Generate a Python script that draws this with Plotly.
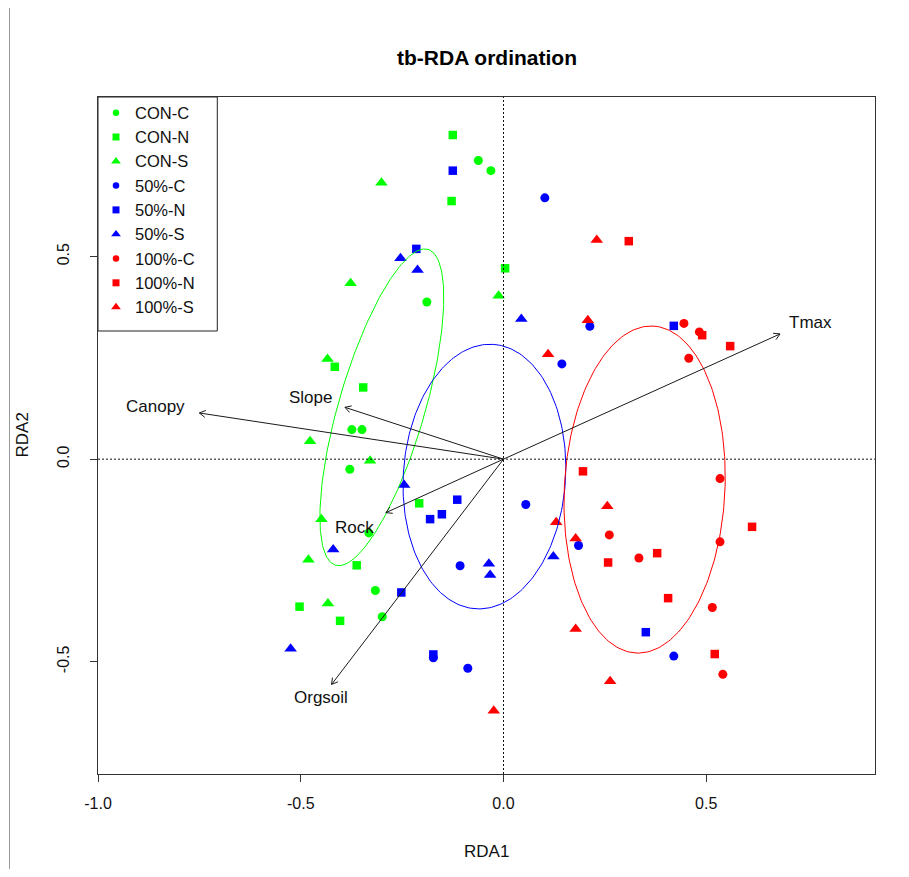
import numpy as np
import plotly.graph_objects as go

# ---------------- data ----------------
groups = ["CON-C", "CON-N", "CON-S", "50%-C", "50%-N", "50%-S", "100%-C", "100%-N", "100%-S"]
group_colors = ["#00FF00", "#00FF00", "#00FF00", "#0000FF", "#0000FF", "#0000FF", "#FF0000", "#FF0000", "#FF0000"]
group_symbols = ["circle", "square", "triangle-up"] * 3

con_c_x = [-0.062, -0.031, -0.189, -0.374, -0.349, -0.379, -0.332, -0.316, -0.299]
con_c_y = [0.737, 0.712, 0.388, 0.073, 0.073, -0.025, -0.182, -0.324, -0.389]
con_n_x = [-0.125, -0.128, 0.004, -0.416, -0.346, -0.208, -0.362, -0.503, -0.403]
con_n_y = [0.800, 0.637, 0.471, 0.228, 0.177, -0.109, -0.262, -0.364, -0.399]
con_s_x = [-0.301, -0.377, -0.012, -0.434, -0.477, -0.329, -0.449, -0.481, -0.433]
con_s_y = [0.682, 0.434, 0.403, 0.247, 0.044, -0.004, -0.148, -0.248, -0.356]
p50_c_x = [0.102, 0.213, 0.144, 0.055, 0.185, -0.107, -0.173, -0.088, 0.420]
p50_c_y = [0.645, 0.328, 0.235, -0.112, -0.213, -0.263, -0.490, -0.516, -0.486]
p50_n_x = [-0.125, -0.215, 0.420, -0.114, -0.152, -0.181, -0.252, -0.173, 0.351]
p50_n_y = [0.712, 0.519, 0.329, -0.100, -0.136, -0.148, -0.329, -0.482, -0.427]
p50_s_x = [-0.254, -0.212, 0.044, -0.245, -0.420, -0.036, -0.033, -0.525, 0.123]
p50_s_y = [0.496, 0.467, 0.346, -0.064, -0.223, -0.258, -0.286, -0.468, -0.240]
p100_c_x = [0.445, 0.483, 0.457, 0.534, 0.261, 0.534, 0.334, 0.515, 0.541]
p100_c_y = [0.335, 0.314, 0.249, -0.048, -0.187, -0.204, -0.244, -0.366, -0.531]
p100_n_x = [0.309, 0.490, 0.559, 0.196, 0.613, 0.379, 0.258, 0.406, 0.521]
p100_n_y = [0.538, 0.306, 0.279, -0.030, -0.167, -0.232, -0.255, -0.343, -0.481]
p100_s_x = [0.230, 0.208, 0.110, 0.256, 0.130, 0.178, 0.178, 0.263, -0.024]
p100_s_y = [0.541, 0.343, 0.259, -0.116, -0.156, -0.196, -0.419, -0.548, -0.621]

group_x = [con_c_x, con_n_x, con_s_x, p50_c_x, p50_n_x, p50_s_x, p100_c_x, p100_n_x, p100_s_x]
group_y = [con_c_y, con_n_y, con_s_y, p50_c_y, p50_n_y, p50_s_y, p100_c_y, p100_n_y, p100_s_y]

# environmental vectors (biplot arrows)
env_names = ["Tmax", "Canopy", "Slope", "Rock", "Orgsoil"]
env_x = [0.682, -0.750, -0.391, -0.290, -0.424]
env_y = [0.309, 0.114, 0.128, -0.132, -0.556]
env_label_x = [0.756, -0.858, -0.477, -0.368, -0.450]
env_label_y = [0.337, 0.131, 0.152, -0.169, -0.589]

# treatment ellipses (centre, semi-axes, rotation in degrees)
ellipse_colors = ["#00FF00", "#0000FF", "#FF0000"]
ellipse_cx = [-0.300, -0.047, 0.348]
ellipse_cy = [0.128, -0.043, -0.075]
ellipse_a = [0.406, 0.327, 0.404]
ellipse_b = [0.106, 0.200, 0.198]
ellipse_angle = [73.7, 86.2, 87.0]

x_ticks = [-1.0, -0.5, 0.0, 0.5]
x_tick_labels = ["-1.0", "-0.5", "0.0", "0.5"]
y_ticks = [-0.5, 0.0, 0.5]
y_tick_labels = ["-0.5", "0.0", "0.5"]

# ---------------- figure ----------------
FONT = "Liberation Sans, Arial, Helvetica, sans-serif"
OFF = 8                      # default page margin of the html body
W, H = 909 - 2 * OFF, 877 - 2 * OFF
ML, MT = 98 - OFF, 97 - OFF
PW, PH = 777, 677
MR, MB = W - ML - PW, H - MT - PH

fig = go.Figure()

marker_sizes = {"circle": 9, "square": 8.5, "triangle-up": 11}
for g, xs, ys, col, sym in zip(groups, group_x, group_y, group_colors, group_symbols):
    fig.add_trace(go.Scatter(
        x=xs, y=ys, mode="markers", name=g,
        marker=dict(color=col, symbol=sym, size=marker_sizes[sym], line=dict(width=0)),
        hoverinfo="x+y+name"))

t = np.linspace(0, 2 * np.pi, 240)
for cx, cy, a, b, ang, col in zip(ellipse_cx, ellipse_cy, ellipse_a, ellipse_b, ellipse_angle, ellipse_colors):
    th = np.deg2rad(ang)
    ex = cx + a * np.cos(t) * np.cos(th) - b * np.sin(t) * np.sin(th)
    ey = cy + a * np.cos(t) * np.sin(th) + b * np.sin(t) * np.cos(th)
    fig.add_trace(go.Scatter(x=ex, y=ey, mode="lines", line=dict(color=col, width=1),
                             hoverinfo="skip"))

# arrows with open heads
ax, ay = [], []
head = 0.017
for x1, y1 in zip(env_x, env_y):
    phi = np.arctan2(y1, x1)
    ax += [0, x1, None]
    ay += [0, y1, None]
    for d in (np.deg2rad(30), -np.deg2rad(30)):
        ax += [x1 - head * np.cos(phi + d), x1, None]
        ay += [y1 - head * np.sin(phi + d), y1, None]
fig.add_trace(go.Scatter(x=ax, y=ay, mode="lines", line=dict(color="#1a1a1a", width=1),
                         hoverinfo="skip"))

for name, lx, ly in zip(env_names, env_label_x, env_label_y):
    fig.add_annotation(x=lx, y=ly, text=name, showarrow=False,
                       font=dict(family=FONT, size=17, color="#111"))

# legend drawn in a pixel-based overlay axis
leg_top, leg_gap = 15.7, 24.3
leg_sizes = {"circle": 6.5, "square": 7, "triangle-up": 8.5}
for i, (g, col, sym) in enumerate(zip(groups, group_colors, group_symbols)):
    yy = leg_top + i * leg_gap
    fig.add_trace(go.Scatter(x=[18], y=[yy], xaxis="x2", yaxis="y2", mode="markers",
                             marker=dict(color=col, symbol=sym, size=leg_sizes[sym], line=dict(width=0)),
                             hoverinfo="skip"))
    fig.add_annotation(x=35, y=yy, xref="x2", yref="y2", text=g, showarrow=False,
                       xanchor="left", yanchor="middle",
                       font=dict(family=FONT, size=16.5, color="#111"))
fig.add_shape(type="rect", xref="x2", yref="y2", x0=0, x1=119.3, y0=0, y1=234,
              line=dict(color="#222", width=1), fillcolor="rgba(0,0,0,0)")

# dotted zero lines
fig.add_shape(type="line", xref="x", yref="paper", x0=0, x1=0, y0=0, y1=1,
              line=dict(color="#111", width=1, dash="2px,2px"))
fig.add_shape(type="line", xref="paper", yref="y", x0=0, x1=1, y0=0, y1=0,
              line=dict(color="#111", width=1, dash="2px,2px"))

# window border on the left edge of the capture
bx = (9.5 - OFF - ML) / PW
fig.add_shape(type="line", xref="paper", yref="paper",
              x0=bx, x1=bx, y0=-MB / PH, y1=1 + MT / PH,
              line=dict(color="#999", width=1))

# titles
fig.add_annotation(text="<b>tb-RDA ordination</b>", xref="paper", yref="paper", x=0.5, y=1,
                   yshift=97 - 57, showarrow=False, xanchor="center", yanchor="middle",
                   font=dict(family=FONT, size=21, color="black"))
fig.add_annotation(text="RDA1", xref="paper", yref="paper", x=0.5, y=0, yshift=-(851 - 774),
                   showarrow=False, xanchor="center", yanchor="middle",
                   font=dict(family=FONT, size=17, color="#111"))
fig.add_annotation(text="RDA2", xref="paper", yref="paper", x=0, y=0.5, xshift=-(98 - 22),
                   showarrow=False, xanchor="center", yanchor="middle", textangle=-90,
                   font=dict(family=FONT, size=17, color="#111"))

axis_common = dict(showgrid=False, zeroline=False, showline=True, linecolor="#333", linewidth=1,
                   mirror=True, ticks="outside", ticklen=7, tickcolor="#333", tickwidth=1,
                   tickfont=dict(family=FONT, size=16, color="#111"))

fig.update_layout(
    width=W, height=H,
    margin=dict(l=ML, r=MR, t=MT, b=MB, pad=0),
    paper_bgcolor="white", plot_bgcolor="white",
    showlegend=False,
    font=dict(family=FONT, size=16, color="#111"),
    xaxis=dict(range=[-1.0, 0.9162], tickvals=x_ticks, ticktext=x_tick_labels,
               ticklabelstandoff=8, **axis_common),
    yaxis=dict(range=[-0.777, 0.8938], tickvals=y_ticks, ticktext=y_tick_labels,
               tickangle=-90, ticklabelstandoff=15, **axis_common),
    xaxis2=dict(overlaying="x", anchor="y2", range=[0, PW], visible=False, fixedrange=True),
    yaxis2=dict(overlaying="y", anchor="x2", range=[PH, 0], visible=False, fixedrange=True),
)

fig.write_html("out.html")
